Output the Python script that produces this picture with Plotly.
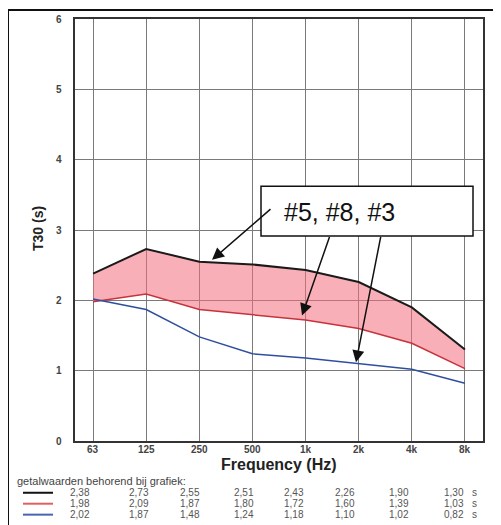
import plotly.graph_objects as go

freqs = ["63", "125", "250", "500", "1k", "2k", "4k", "8k"]
t30_black = [2.38, 2.73, 2.55, 2.51, 2.43, 2.26, 1.90, 1.30]
t30_red = [1.98, 2.09, 1.87, 1.80, 1.72, 1.60, 1.39, 1.03]
t30_blue = [2.02, 1.87, 1.48, 1.24, 1.18, 1.10, 1.02, 0.82]
y_ticks = [0, 1, 2, 3, 4, 5, 6]
label_text = "#5, #8, #3"
table_header = "getalwaarden behorend bij grafiek:"

OFF = 8  # page body margin
W, H = 501 - OFF, 525 - OFF
# plot area in reference pixel coordinates
RL, RR, RT, RB = 75, 483, 17, 441
L, R, T, B = RL - OFF, RR - OFF, RT - OFF, RB - OFF

def px(xp):
    return (xp - RL) / (RR - RL)

def py(yp):
    return (RB - yp) / (RB - RT)

xi = list(range(len(freqs)))
fig = go.Figure()
fig.add_trace(go.Scatter(x=xi, y=t30_black, mode="lines",
                         line=dict(color="#1a1a1a", width=2), showlegend=False))
fig.add_trace(go.Scatter(x=xi, y=t30_red, mode="lines", fill="tonexty",
                         fillcolor="rgba(242,110,125,0.55)",
                         line=dict(color="#c8323c", width=1.5), showlegend=False))
fig.add_trace(go.Scatter(x=xi, y=t30_blue, mode="lines",
                         line=dict(color="#2f4f9e", width=1.5), showlegend=False))

fig.update_xaxes(range=[-0.34, 7.34], tickvals=xi, showticklabels=False,
                 showgrid=True, gridcolor="#7a7a7a", gridwidth=1,
                 showline=True, linecolor="#333", linewidth=2, mirror=True,
                 zeroline=False, ticks="")
fig.update_yaxes(range=[0, 6], tickvals=y_ticks, showticklabels=False,
                 showgrid=True, gridcolor="#7a7a7a", gridwidth=1,
                 showline=True, linecolor="#333", linewidth=2, mirror=True,
                 zeroline=False, ticks="")

tick_font = dict(family="Liberation Sans", size=10, color="#444", weight="bold")
shapes = []
annotations = []
for i, f in enumerate(freqs):
    annotations.append(dict(x=i, y=py(450), xref="x", yref="paper", text=f, showarrow=False,
                            xanchor="center", yanchor="middle", font=tick_font))
for v in y_ticks:
    annotations.append(dict(x=px(64), y=v, xref="paper", yref="y", text=str(v), showarrow=False,
                            xanchor="right", yanchor="middle", font=tick_font))

# outer frame
shapes.append(dict(type="line", xref="paper", yref="paper", x0=px(8), x1=px(8), y0=py(7), y1=py(530),
                   line=dict(color="#111", width=2)))
shapes.append(dict(type="line", xref="paper", yref="paper", x0=px(8), x1=px(501), y0=py(8), y1=py(8),
                   line=dict(color="#111", width=2)))
shapes.append(dict(type="line", xref="paper", yref="paper", x0=px(494), x1=px(494), y0=py(8), y1=py(530),
                   line=dict(color="#d0d0d0", width=1)))
# label box
shapes.append(dict(type="rect", xref="paper", yref="paper", x0=px(261), x1=px(473), y0=py(235), y1=py(185),
                   line=dict(color="#111", width=1.5), fillcolor="white"))
annotations.append(dict(x=px(282), y=py(211), xref="paper", yref="paper", text=label_text,
                        showarrow=False, xanchor="left", yanchor="middle",
                        font=dict(family="Liberation Sans", size=25, color="#111")))
for tip, tail in [((212, 259), (272, 207)), ((302, 315), (330, 235)), ((356, 362), (381, 235))]:
    annotations.append(dict(x=px(tip[0]), y=py(tip[1]), xref="paper", yref="paper",
                            ax=tail[0] - tip[0], ay=tail[1] - tip[1], text="",
                            showarrow=True, arrowhead=2, arrowsize=1.6, arrowwidth=1.5,
                            arrowcolor="#111"))

annotations.append(dict(x=px(279), y=py(465), xref="paper", yref="paper", text="Frequency (Hz)",
                        showarrow=False, xanchor="center", yanchor="middle",
                        font=dict(family="Liberation Sans", size=16, color="#222", weight="bold")))
annotations.append(dict(x=px(38), y=py(228), xref="paper", yref="paper", text="T30 (s)",
                        showarrow=False, textangle=-90, xanchor="center", yanchor="middle",
                        font=dict(family="Liberation Sans", size=14, color="#222", weight="bold")))
annotations.append(dict(x=px(15), y=py(481), xref="paper", yref="paper", text=table_header,
                        showarrow=False, xanchor="left", yanchor="middle",
                        font=dict(family="Liberation Sans", size=11, color="#444")))

col_x = [68, 127, 178, 232, 282, 333, 387, 442]
rows = [(t30_black, "#111", 493), (t30_red, "#e06060", 504), (t30_blue, "#4a64b0", 515)]
num_font = dict(family="Liberation Sans", size=10, color="#555")
for vals, col, yy in rows:
    shapes.append(dict(type="line", xref="paper", yref="paper", x0=px(23), x1=px(53), y0=py(yy), y1=py(yy),
                       line=dict(color=col, width=2)))
    for i, v in enumerate(vals):
        txt = f"{v:.2f}".replace(".", ",")
        annotations.append(dict(x=px(col_x[i]), y=py(yy), xref="paper", yref="paper", text=txt,
                                showarrow=False, xanchor="left", yanchor="middle", font=num_font))
    annotations.append(dict(x=px(470), y=py(yy), xref="paper", yref="paper", text="s",
                            showarrow=False, xanchor="left", yanchor="middle", font=num_font))

fig.update_layout(width=W, height=H, margin=dict(l=L, r=W - R, t=T, b=H - B),
                  paper_bgcolor="white", plot_bgcolor="white",
                  shapes=shapes, annotations=annotations)
fig.write_html("out.html")
